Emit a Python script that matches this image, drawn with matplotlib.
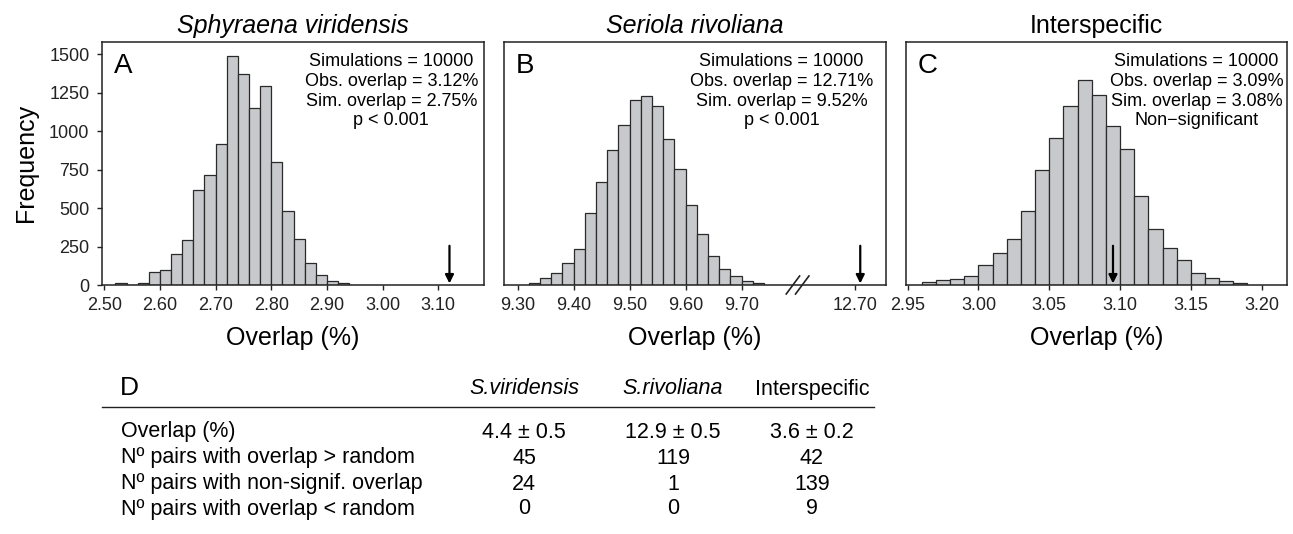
import matplotlib
matplotlib.use("Agg")
import matplotlib.pyplot as plt
import numpy as np
from matplotlib.lines import Line2D

plt.rcParams["font.family"] = ["Liberation Sans", "DejaVu Sans"]

# --- data ------------------------------------------------------------------
sv_start, sv_width = 2.52, 0.02
sv_counts = [15, 3, 15, 83, 98, 201, 292, 620, 718, 919, 1491, 1369, 1150,
             1294, 799, 483, 297, 142, 65, 24, 11]
sv_obs = 3.12

sr_start, sr_width = 9.32, 0.02
sr_counts = [15, 44, 76, 140, 236, 469, 672, 880, 1039, 1203, 1229, 1161,
             952, 755, 520, 330, 186, 103, 61, 26, 13]
sr_obs = 12.71

inter_start, inter_width = 2.96, 0.01
inter_counts = [17, 31, 39, 59, 127, 207, 301, 480, 746, 954, 1166, 1336,
                1238, 1033, 882, 576, 367, 240, 164, 76, 44, 24, 15]
inter_obs = 3.095

titles = ["Sphyraena viridensis", "Seriola rivoliana", "Interspecific"]
title_italic = [True, True, False]
letters = ["A", "B", "C"]
stats_text = [
    "Simulations = 10000\nObs. overlap = 3.12%\nSim. overlap = 2.75%\np < 0.001",
    "Simulations = 10000\nObs. overlap = 12.71%\nSim. overlap = 9.52%\np < 0.001",
    "Simulations = 10000\nObs. overlap = 3.09%\nSim. overlap = 3.08%\nNon\u2212significant",
]
sv_ticks = [2.50, 2.60, 2.70, 2.80, 2.90, 3.00, 3.10]
sr_ticks = [9.30, 9.40, 9.50, 9.60, 9.70, 12.70]
inter_ticks = [2.95, 3.00, 3.05, 3.10, 3.15, 3.20]
y_ticks = [0, 250, 500, 750, 1000, 1250, 1500]

table_cols = ["S.viridensis", "S.rivoliana", "Interspecific"]
table_rows = ["Overlap (%)", "N\u00ba pairs with overlap > random",
              "N\u00ba pairs with non-signif. overlap", "N\u00ba pairs with overlap < random"]
table_vals = [["4.4 \u00b1 0.5", "12.9 \u00b1 0.5", "3.6 \u00b1 0.2"],
              ["45", "119", "42"],
              ["24", "1", "139"],
              ["0", "0", "9"]]

# --- figure ------------------------------------------------------------------
W, H = 1293, 534
fig = plt.figure(figsize=(W / 100, H / 100), dpi=100)


def px_ax(x0, x1, y0, y1):
    return fig.add_axes([x0 / W, 1 - y1 / H, (x1 - x0) / W, (y1 - y0) / H])


axA = px_ax(102, 484, 41.7, 285)
axB = px_ax(504, 886, 41.7, 285)
axC = px_ax(905.7, 1287, 41.7, 285)
axes = [axA, axB, axC]

# broken x axis for B: squeeze 9.80..12.60 into almost nothing
fwd_k = [-100, 9.80, 12.60, 100]
inv_k = [-100, 9.80, 9.802, 9.802 + 87.4]
axB.set_xscale("function", functions=(lambda x: np.interp(x, fwd_k, inv_k),
                                      lambda u: np.interp(u, inv_k, fwd_k)))

series = [(sv_start, sv_width, sv_counts, sv_obs),
          (sr_start, sr_width, sr_counts, sr_obs),
          (inter_start, inter_width, inter_counts, inter_obs)]
tick_sets = [sv_ticks, sr_ticks, inter_ticks]
xlims = [(2.496, 3.182), (9.2755, 12.756), (2.9486, 3.2179)]
txt_x = [0.984, 0.966, 0.99]

for i, ax in enumerate(axes):
    start, width, counts, obs = series[i]
    lefts = start + width * np.arange(len(counts))
    ax.bar(lefts, counts, width=width, align="edge", color="#c8c9cc",
           edgecolor="#2a2a2a", linewidth=0.9)
    ax.set_xlim(*xlims[i])
    ax.set_ylim(0, 1582)
    ax.set_xticks(tick_sets[i])
    ax.set_xticklabels([f"{t:.2f}" for t in tick_sets[i]])
    ax.annotate("", xy=(obs, 10), xytext=(obs, 255),
                arrowprops=dict(arrowstyle="-|>,head_length=0.5,head_width=0.25",
                                color="black", lw=1.6, shrinkA=0, shrinkB=0))
    for s in ax.spines.values():
        s.set_linewidth(1.1)
        s.set_color("#222222")
    ax.tick_params(axis="x", direction="out", length=3.5, width=1.0,
                   labelsize=13, pad=5.5, colors="#222222")
    if i == 0:
        ax.set_yticks(y_ticks)
        ax.tick_params(axis="y", direction="out", length=3.5, width=1.0,
                       labelsize=13, pad=5.5, colors="#222222")
        ax.set_ylabel("Frequency", fontsize=18, labelpad=8)
    else:
        ax.set_yticks([])
    ax.set_xlabel("Overlap (%)", fontsize=18, labelpad=8)
    ax.set_title(titles[i], fontsize=18, pad=6.5,
                 style="italic" if title_italic[i] else "normal")
    ax.text(0.031, 0.952, letters[i], transform=ax.transAxes, fontsize=20,
            ha="left", va="top")
    ax.text(txt_x[i], 0.952, stats_text[i], transform=ax.transAxes,
            fontsize=13, ha="right", va="top", multialignment="center",
            linespacing=1.2)

# break marks on B's x axis
brk = axB.transAxes.inverted().transform(axB.transData.transform((9.80, 0)))[0]
dx = 4.65 / 382
for off in (-dx, dx):
    axB.add_line(Line2D([brk + off - 0.0175, brk + off + 0.0175], [-0.037, 0.037],
                        transform=axB.transAxes, color="#222222", lw=1.2,
                        clip_on=False))

# --- table D -------------------------------------------------------------------
tsize = 15.5
col_x = [524, 673, 812]
row_y = [432, 458, 484, 509]
fig.text(120 / W, 1 - 388 / H, "D", fontsize=19, ha="left", va="center")
for j, name in enumerate(table_cols):
    fig.text(col_x[j] / W, 1 - 389 / H, name, fontsize=tsize,
             ha="center", va="center", style="italic" if j < 2 else "normal")
fig.add_artist(Line2D([102 / W, 874 / W], [1 - 407 / H] * 2,
                      transform=fig.transFigure, color="#222222", lw=1.0))
for r, label in enumerate(table_rows):
    fig.text(121 / W, 1 - row_y[r] / H, label, fontsize=tsize,
             ha="left", va="center")
    for j in range(3):
        fig.text(col_x[j] / W, 1 - row_y[r] / H, table_vals[r][j], fontsize=tsize,
                 ha="center", va="center")

fig.savefig("out.png", dpi=100)
